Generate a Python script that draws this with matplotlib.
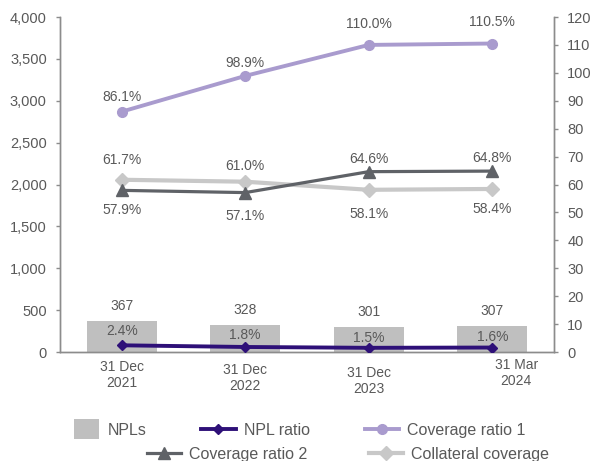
import matplotlib
matplotlib.use("Agg")
import matplotlib.pyplot as plt
import matplotlib.transforms as mtransforms
from matplotlib.patches import Rectangle
from matplotlib.legend_handler import HandlerPatch

# ---- data ----
categories = ["31 Dec\n2021", "31 Dec\n2022", "31 Dec\n2023", "31 Mar\n2024"]
npls = [367, 328, 301, 307]
npl_ratio = [2.4, 1.8, 1.5, 1.6]
coverage_ratio_1 = [86.1, 98.9, 110.0, 110.5]
coverage_ratio_2 = [57.9, 57.1, 64.6, 64.8]
collateral_coverage = [61.7, 61.0, 58.1, 58.4]
left_ticks = [0, 500, 1000, 1500, 2000, 2500, 3000, 3500, 4000]
right_ticks = list(range(0, 121, 10))

# ---- style ----
TXT = "#595959"
SPINE = "#8C8C8C"
C_BAR = "#BFBFBF"
C_NPLR = "#2E1078"
C_CR1 = "#A99BCE"
C_CR2 = "#5F6267"
C_COL = "#C8C8C8"

plt.rcParams["font.family"] = ["Liberation Sans", "DejaVu Sans"]
plt.rcParams["font.size"] = 10

fig = plt.figure(figsize=(5.94, 4.61), dpi=100)
ax = fig.add_axes([60 / 594, 1 - 352 / 461, (554 - 60) / 594, (352 - 17) / 461])
ax2 = ax.twinx()

x = list(range(len(categories)))

bars = ax.bar(x, npls, width=0.57, color=C_BAR, zorder=1)
ax.set_xlim(-0.5, len(categories) - 0.5)
ax.set_ylim(0, 4000)
ax.set_yticks(left_ticks)
ax.set_yticklabels([f"{v:,}" for v in left_ticks])

ax2.set_ylim(0, 120)
ax2.set_yticks(right_ticks)

(l_nplr,) = ax2.plot(x, npl_ratio, color=C_NPLR, lw=2.8, marker="D", ms=5.5, zorder=5)
(l_cr1,) = ax2.plot(x, coverage_ratio_1, color=C_CR1, lw=2.8, marker="o", ms=7, zorder=4)
(l_cr2,) = ax2.plot(x, coverage_ratio_2, color=C_CR2, lw=2.3, marker="^", ms=8, zorder=4)
(l_col,) = ax2.plot(x, collateral_coverage, color=C_COL, lw=3.0, marker="D", ms=7.5, zorder=3)

# spines / ticks
for a in (ax, ax2):
    a.spines["top"].set_visible(False)
    for s in ("left", "right", "bottom"):
        a.spines[s].set_color(SPINE)
        a.spines[s].set_linewidth(1.0)
    a.tick_params(axis="y", colors=SPINE, labelcolor=TXT, labelsize=10.5,
                  length=3, width=1.0, direction="out", pad=6.5)
ax.tick_params(axis="x", length=0, pad=6, labelcolor=TXT, labelsize=10)
ax.set_xticks(x)
ax.set_xticklabels(categories, linespacing=1.15)
# small individual shifts of the category labels (pixels)
label_shift = [(0, 0), (0, -3), (0, -6), (24, 2)]
for lab, (dx, dy) in zip(ax.get_xticklabels(), label_shift):
    lab.set_transform(lab.get_transform() +
                      mtransforms.ScaledTranslation(dx / 100, dy / 100, fig.dpi_scale_trans))

# ---- data labels ----
def put(axis, xs, ys, texts, offs):
    for xi, yi, t, o in zip(xs, ys, texts, offs):
        axis.annotate(t, (xi, yi), xytext=(0, o), textcoords="offset pixels",
                      ha="center", va="center", color=TXT, fontsize=10, zorder=6)

put(ax, x, npls, [str(v) for v in npls], [15, 15, 15, 15])
put(ax2, x, npl_ratio, [f"{v:.1f}%" for v in npl_ratio], [14, 12, 10, 11])
put(ax2, x, coverage_ratio_1, [f"{v:.1f}%" for v in coverage_ratio_1], [15, 13, 21, 22])
put(ax2, x, coverage_ratio_2, [f"{v:.1f}%" for v in coverage_ratio_2], [-20, -23, 13, 13])
put(ax2, x, collateral_coverage, [f"{v:.1f}%" for v in collateral_coverage], [20, 16, -24, -20])

# ---- legends ----
def small_patch(legend, orig_handle, xdescent, ydescent, width, height, fontsize):
    x0 = -xdescent + width * 0.25
    return Rectangle((x0, -ydescent - height * 0.4), width * 0.75, height * 1.8)

bar_proxy = Rectangle((0, 0), 1, 1, facecolor=C_BAR, edgecolor="none")
common = dict(frameon=False, fontsize=11.5, labelcolor=TXT, borderpad=0,
              borderaxespad=0, handletextpad=0.5, handlelength=2.15, loc="center left")
leg1 = fig.legend([bar_proxy, l_nplr, l_cr1], ["NPLs", "NPL ratio", "Coverage ratio 1"],
                  ncol=3, columnspacing=3.45, bbox_to_anchor=(65 / 594, (461 - 430) / 461),
                  handler_map={bar_proxy: HandlerPatch(patch_func=small_patch)}, **common)
leg2 = fig.legend([l_cr2, l_col], ["Coverage ratio 2", "Collateral coverage"],
                  ncol=2, columnspacing=3.85, bbox_to_anchor=(147 / 594, (461 - 454) / 461),
                  **common)

fig.savefig("out.png", dpi=100)
